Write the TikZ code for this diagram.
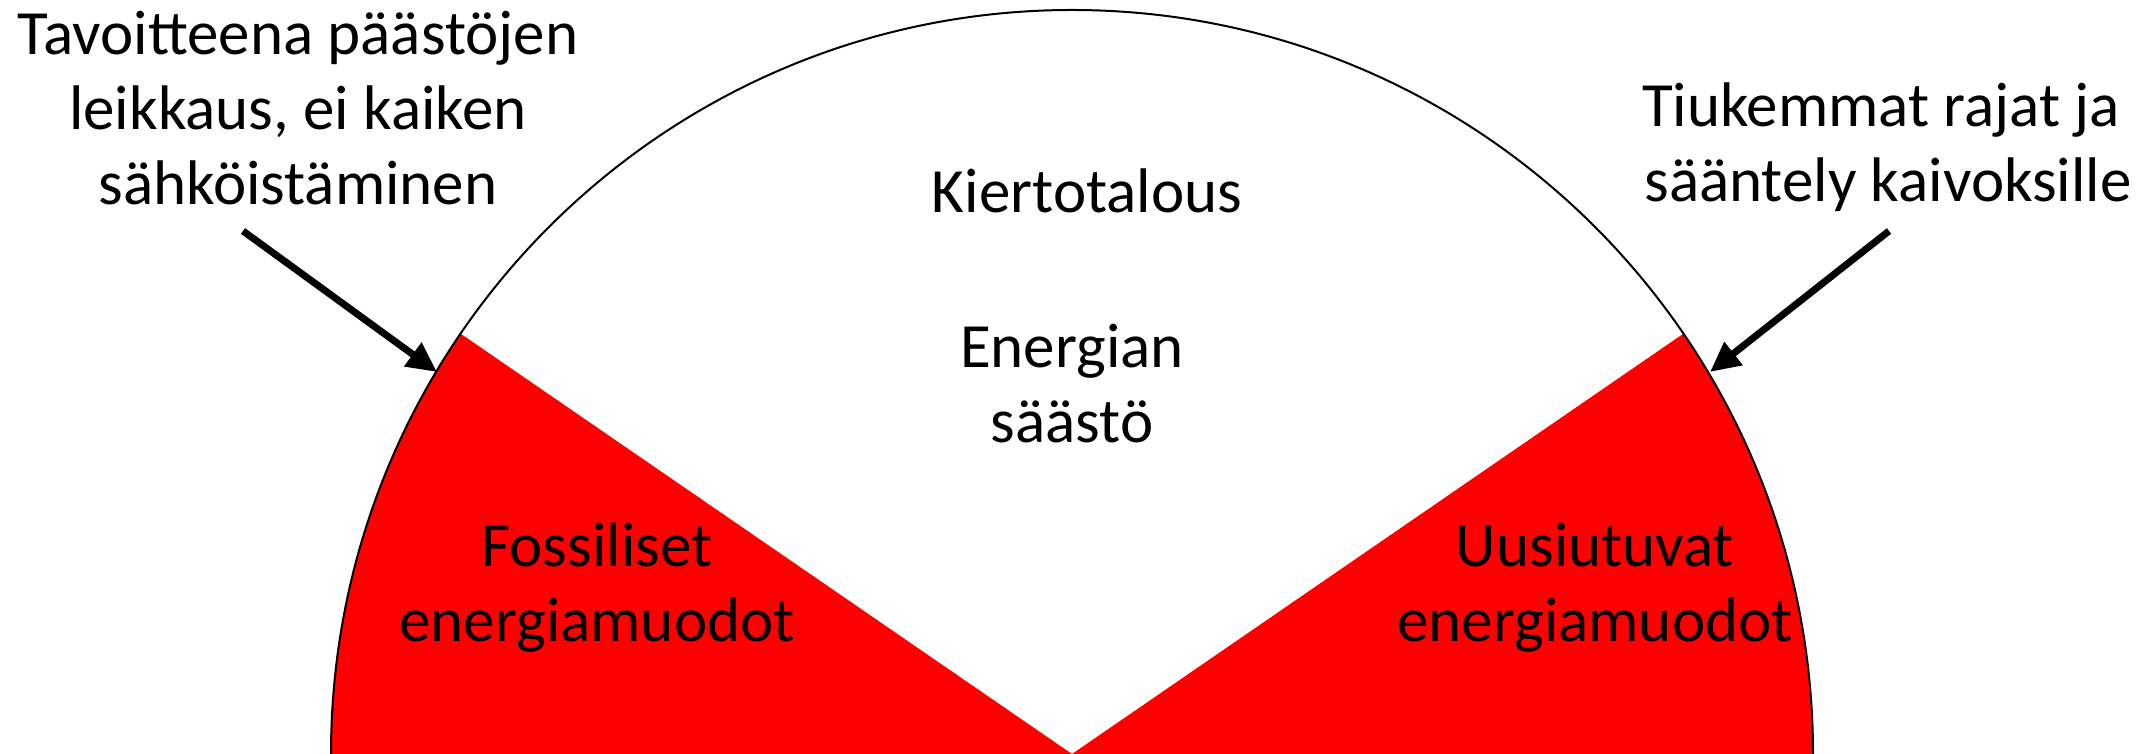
\documentclass[tikz,border=0pt]{standalone}
\usepackage{fontspec}
\setmainfont{Carlito}
\usetikzlibrary{arrows.meta}
\begin{document}
\begin{tikzpicture}[x=1pt,y=1pt,
  lbl/.style={font=\fontsize{63}{75}\selectfont, align=center, inner sep=0pt},
  pointer/.style={line width=7pt, -{Triangle[length=30pt,width=28pt]}},
  wedge/.style={fill=red},
  rim/.style={line width=2pt}]
\useasboundingbox (0,0) rectangle (2154,754);
\fill[white] (0,0) rectangle (2154,754);
\coordinate (C) at (1072,0);
\coordinate (Lend) at (331,0);
\coordinate (Rend) at (1813,0);
% red side sectors
\fill[wedge] (C) -- (Lend) arc[start angle=180,end angle=145.6,x radius=741pt,y radius=744pt] -- cycle;
\fill[wedge] (C) -- (Rend) arc[start angle=0,end angle=34.4,x radius=741pt,y radius=744pt] -- cycle;
% outer rim
\draw[rim] (Rend) arc[start angle=0,end angle=180,x radius=741pt,y radius=744pt];
% labels
\node[lbl] (goal) at (298,646) {Tavoitteena päästöjen\\leikkaus, ei kaiken\\sähköistäminen};
\node[lbl] (mines) at (1888,607) {Tiukemmat rajat ja\kern14pt\\sääntely kaivoksille};
\node[lbl] (circ) at (1087,563) {Kiertotalous};
\node[lbl] (save) at (1072,370) {Energian\\säästö};
\node[lbl] (foss) at (597,166) {Fossiliset\\energiamuodot};
\node[lbl] (renew) at (1595,166) {Uusiutuvat\\energiamuodot};
% pointers to the rim
\coordinate (la) at (243,523);
\coordinate (lt) at (437,382);
\coordinate (ra) at (1889,523);
\coordinate (rt) at (1710,382);
\draw[pointer] (la) -- (lt);
\draw[pointer] (ra) -- (rt);
\end{tikzpicture}
\end{document}
